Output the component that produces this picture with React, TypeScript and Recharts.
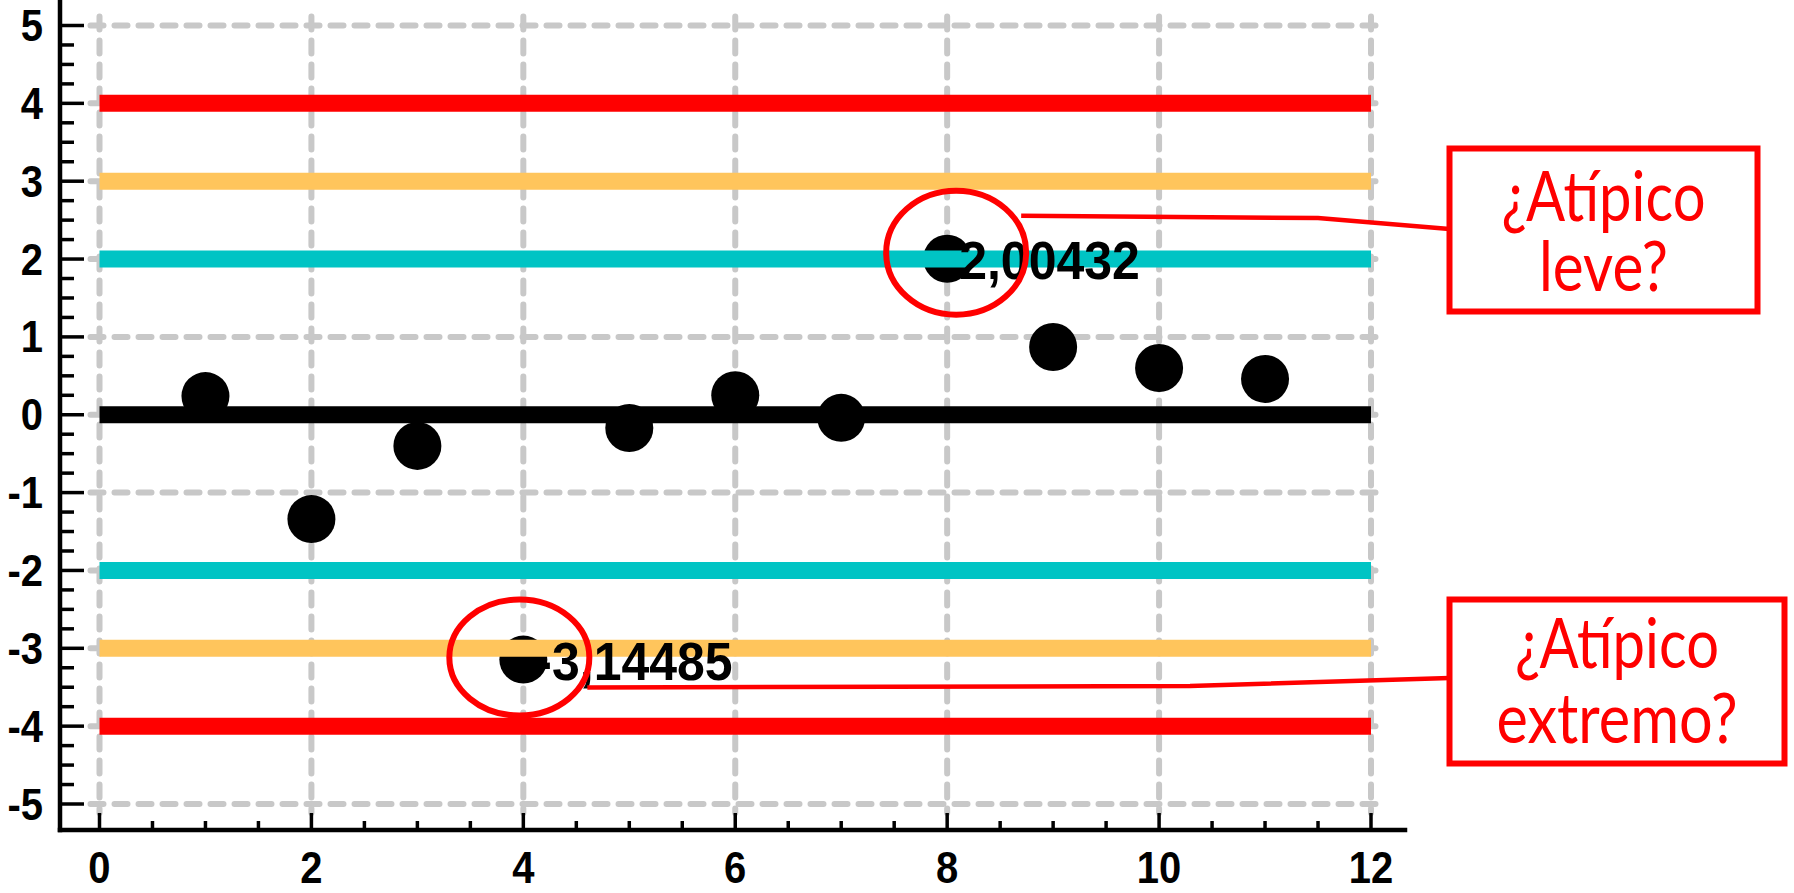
import React from "react";
import {
  ScatterChart,
  Scatter,
  XAxis,
  YAxis,
  CartesianGrid,
  ReferenceLine,
  ReferenceDot,
} from "recharts";

// residuals by observation number
const CASES = [1, 2, 3, 4, 5, 6, 7, 8, 9, 10, 11];
const RESIDUALS = [0.24, -1.34, -0.4, -3.14485, -0.17, 0.25, -0.04, 2.00432, 0.87, 0.6, 0.46];

// control limits: ±2, ±3, ±4 and the zero line
const LIMIT_LEVELS = [4, 3, 2, 0, -2, -3, -4];
const LIMIT_COLORS = ["#ff0000", "#ffc55c", "#00c4c4", "#000000", "#00c4c4", "#ffc55c", "#ff0000"];

const X_TICKS = [0, 2, 4, 6, 8, 10, 12];
const Y_TICKS = [-5, -4, -3, -2, -1, 0, 1, 2, 3, 4, 5];

// suspicious observations and their notes
const FLAGGED_CASES = [8, 4];
const FLAG_NOTES = [
  ["¿Atípico", "leve?"],
  ["¿Atípico", "extremo?"],
];

const W = 1794;
const H = 893;
const PAD_X = { left: 39.5, right: 34 };
const PAD_Y = { top: 23.5, bottom: 26 };
const GRID_OVERHANG = 9;
const DOT_R = 24;
const RED = "#ff0000";

const X_MINOR = X_TICKS.slice(0, -1)
  .flatMap((t) => [t, t + 0.5, t + 1, t + 1.5])
  .concat(X_TICKS[X_TICKS.length - 1]);
const Y_MINOR = Y_TICKS.slice(0, -1)
  .flatMap((t) => [t, t + 0.25, t + 0.5, t + 0.75])
  .concat(Y_TICKS[Y_TICKS.length - 1]);

const points = CASES.map((x, i) => ({ x, y: RESIDUALS[i] }));

const tickFont: React.CSSProperties = {
  fontFamily: "'Liberation Sans', Arial, sans-serif",
  fontWeight: 700,
  fontSize: 40,
  fill: "#000",
};
const valueFont: React.CSSProperties = { ...tickFont, fontSize: 50 };
const noteFont: React.CSSProperties = {
  fontFamily: "Lato, 'Open Sans', sans-serif",
  fontSize: 69,
  fill: RED,
};

const frame = { stroke: "#000", strokeWidth: 4.5, strokeLinecap: "square" as const };
const TICK_W = 3.5;
const gridStroke = {
  stroke: "#c8c8c8",
  strokeWidth: 6,
  strokeDasharray: "13 11",
  strokeLinecap: "round" as const,
};

// bold numerals are drawn slightly tall
const Tall = ({ x, y, anchor, stretch, style, children }: any) => (
  <text transform={`translate(${x},${y}) scale(1,${stretch})`} textAnchor={anchor} style={style}>
    {children}
  </text>
);

const isMajor = (list: number[], v: number) => list.includes(v);

const BottomTick = (p: any) => {
  const v = p.payload.value;
  const major = isMajor(X_TICKS, v);
  return (
    <g>
      <line x1={p.x} x2={p.x} y1={p.y} y2={p.y - (major ? 17 : 9)} stroke="#000" strokeWidth={TICK_W} />
      {major && (
        <Tall x={p.x} y={p.y + 53} anchor="middle" stretch={1.12} style={tickFont}>
          {v}
        </Tall>
      )}
    </g>
  );
};

const TopTick = (p: any) => {
  const major = isMajor(X_TICKS, p.payload.value);
  return <line x1={p.x} x2={p.x} y1={p.y} y2={p.y + (major ? 16 : 9)} stroke="#000" strokeWidth={TICK_W} />;
};

const LeftTick = (p: any) => {
  const v = p.payload.value;
  const major = isMajor(Y_TICKS, v);
  return (
    <g>
      <line x1={p.x} x2={p.x + (major ? 24 : 14)} y1={p.y} y2={p.y} stroke="#000" strokeWidth={TICK_W} />
      {major && (
        <Tall x={p.x - 17} y={p.y + 15.5} anchor="end" stretch={1.12} style={tickFont}>
          {v}
        </Tall>
      )}
    </g>
  );
};

const RightTick = (p: any) => {
  const major = isMajor(Y_TICKS, p.payload.value);
  return <line x1={p.x} x2={p.x - (major ? 25 : 13)} y1={p.y} y2={p.y} stroke="#000" strokeWidth={TICK_W} />;
};

// grid lines stop a little past the outer major ticks instead of running to the frame
const HGrid = (p: any) => (
  <line
    x1={p.x1 + PAD_X.left - GRID_OVERHANG}
    x2={p.x2 - PAD_X.right + GRID_OVERHANG}
    y1={p.y1}
    y2={p.y2}
    {...gridStroke}
  />
);
const VGrid = (p: any) => (
  <line
    x1={p.x1}
    x2={p.x2}
    y1={p.y1 + PAD_Y.top - GRID_OVERHANG}
    y2={p.y2 - PAD_Y.bottom + GRID_OVERHANG}
    {...gridStroke}
  />
);

// pixel layout of the ring, leader and note box for each flagged case
const CALLOUT_LAYOUT = [
  {
    ring: { dx: 9, dy: -6, rx: 70, ry: 62 },
    lead: { dx: 74, dy: -43 },
    bend: [1318, 218],
    joinY: 229,
    box: { x: 1449.5, y: 148.5, w: 308, h: 163 },
    baselines: [221, 291],
    widths: [204, 129],
  },
  {
    ring: { dx: -4, dy: -2, rx: 70, ry: 58 },
    lead: { dx: 64, dy: 28 },
    bend: [1190, 686],
    joinY: 678,
    box: { x: 1449.5, y: 599.5, w: 335, h: 164 },
    baselines: [668, 743],
    widths: [204, 241],
  },
];

const formatValue = (v: number) => String(v).replace(".", ",");

function Callout({ cx, cy, value, note, layout }: any) {
  const { ring, lead, bend, joinY, box, baselines, widths } = layout;
  return (
    <g>
      <Tall x={cx + 12} y={cy + 20} anchor="start" stretch={1.07} style={valueFont}>
        {formatValue(value)}
      </Tall>
      <polyline
        points={`${cx + lead.dx},${cy + lead.dy} ${bend[0]},${bend[1]} ${box.x},${joinY}`}
        fill="none"
        stroke={RED}
        strokeWidth={4.5}
      />
      <ellipse
        cx={cx + ring.dx}
        cy={cy + ring.dy}
        rx={ring.rx}
        ry={ring.ry}
        fill="none"
        stroke={RED}
        strokeWidth={6}
      />
      <rect x={box.x} y={box.y} width={box.w} height={box.h} fill="#fff" stroke={RED} strokeWidth={6} />
      {note.map((line: string, i: number) => (
        <text
          key={line + i}
          x={box.x + box.w / 2}
          y={baselines[i]}
          textAnchor="middle"
          textLength={widths[i]}
          lengthAdjust="spacingAndGlyphs"
          style={noteFont}
        >
          {line}
        </text>
      ))}
    </g>
  );
}

export default function App() {
  return (
    <div style={{ position: "absolute", left: 0, top: 0, width: W, height: H, background: "#fff" }}>
      <ScatterChart width={W} height={H} margin={{ top: 2, right: 389, bottom: 0, left: 0 }}>
        <CartesianGrid
          horizontalValues={Y_TICKS}
          verticalValues={X_TICKS}
          horizontal={HGrid}
          vertical={VGrid}
        />
        <XAxis
          dataKey="x"
          type="number"
          domain={[0, 12]}
          allowDataOverflow
          ticks={X_MINOR}
          interval={0}
          padding={PAD_X}
          height={63}
          tickSize={0}
          tickMargin={0}
          tickLine={false}
          axisLine={frame}
          tick={BottomTick}
        />
        <XAxis
          xAxisId="top"
          orientation="top"
          type="number"
          domain={[0, 12]}
          allowDataOverflow
          ticks={X_MINOR}
          interval={0}
          padding={PAD_X}
          height={0}
          tickSize={0}
          tickMargin={0}
          tickLine={false}
          axisLine={frame}
          tick={TopTick}
        />
        <YAxis
          dataKey="y"
          type="number"
          domain={[-5, 5]}
          allowDataOverflow
          ticks={Y_MINOR}
          interval={0}
          padding={PAD_Y}
          width={60}
          tickSize={0}
          tickMargin={0}
          tickLine={false}
          axisLine={frame}
          tick={LeftTick}
        />
        <YAxis
          yAxisId="right"
          orientation="right"
          type="number"
          domain={[-5, 5]}
          allowDataOverflow
          ticks={Y_MINOR}
          interval={0}
          padding={PAD_Y}
          width={0}
          tickSize={0}
          tickMargin={0}
          tickLine={false}
          axisLine={frame}
          tick={RightTick}
        />
        <Scatter
          data={points}
          isAnimationActive={false}
          shape={(p: any) => <circle cx={p.cx} cy={p.cy} r={DOT_R} fill="#000" />}
        />
        {/* limit bands are painted over the points */}
        {LIMIT_LEVELS.map((level, i) => (
          <ReferenceLine
            key={level}
            zIndex={650}
            segment={[
              { x: X_TICKS[0], y: level },
              { x: X_TICKS[X_TICKS.length - 1], y: level },
            ]}
            stroke={LIMIT_COLORS[i]}
            strokeWidth={17}
          />
        ))}
        {FLAGGED_CASES.map((c, i) => (
          <ReferenceDot
            key={c}
            zIndex={700}
            x={c}
            y={RESIDUALS[CASES.indexOf(c)]}
            ifOverflow="visible"
            shape={(p: any) => (
              <Callout
                cx={p.cx}
                cy={p.cy}
                value={RESIDUALS[CASES.indexOf(c)]}
                note={FLAG_NOTES[i]}
                layout={CALLOUT_LAYOUT[i]}
              />
            )}
          />
        ))}
      </ScatterChart>
    </div>
  );
}
